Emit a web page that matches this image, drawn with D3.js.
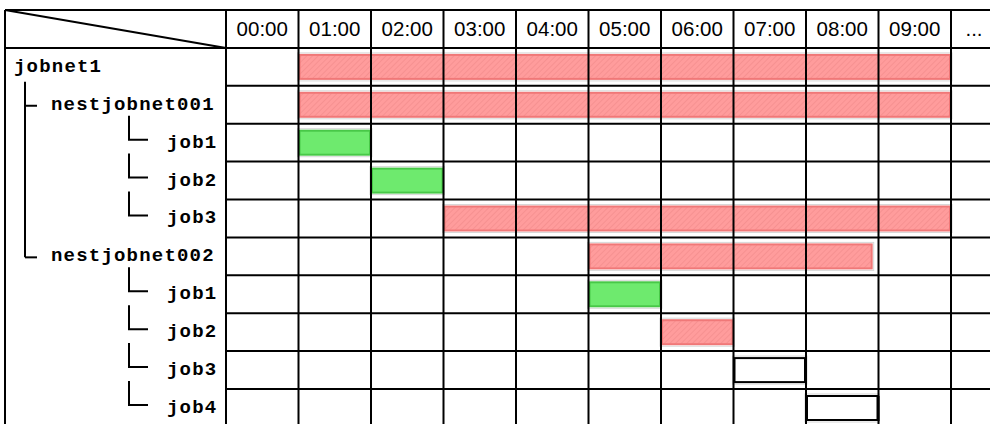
<!DOCTYPE html>
<html>
<head>
<meta charset="utf-8">
<script src="https://cdn.jsdelivr.net/npm/d3@7/dist/d3.min.js"></script>
<style>
  html, body { margin: 0; padding: 0; background: #fff; overflow: hidden; }
  svg { display: block; }
</style>
</head>
<body>
<svg id="chart" width="990" height="424"></svg>
<script>
// ---- data ----
const timeLabels = ["00:00","01:00","02:00","03:00","04:00","05:00","06:00","07:00","08:00","09:00","..."];
const rowNames   = ["jobnet1","nestjobnet001","job1","job2","job3","nestjobnet002","job1","job2","job3","job4"];
const rowDepths  = [0, 1, 2, 2, 2, 1, 2, 2, 2, 2];
const barStart   = [1, 1, 1, 2, 3, 5, 5, 6, 7, 8];       // hours
const barEnd     = [10, 10, 2, 3, 10, 8.92, 6, 7, 8, 9];  // hours
const barStatus  = ["running","running","ended","ended","running","running","ended","running","waiting","waiting"];

(function () {
// ---- layout ----
const svg = d3.select("#chart");
const left = 5, topY = 10, labelRight = 226, rowH = 37.9;
const nRows = rowNames.length + 1;
const x = d3.scaleLinear().domain([0, 10]).range([labelRight, labelRight + 72.5 * 10]);
const rowKeys = ["header"].concat(rowNames.map((d, i) => "r" + i));
const y = d3.scaleBand().domain(rowKeys).range([topY, topY + nRows * rowH]).paddingInner(0).paddingOuter(0);
const bottom = topY + nRows * rowH;

const defs = svg.append("defs");
const pat = defs.append("pattern").attr("id", "hatch").attr("patternUnits", "userSpaceOnUse")
  .attr("width", 4).attr("height", 4).attr("patternTransform", "rotate(45)");
pat.append("rect").attr("width", 4).attr("height", 4).attr("fill", "#ff9c9c");
pat.append("line").attr("x1", 0).attr("y1", 0).attr("x2", 0).attr("y2", 4)
  .attr("stroke", "#f08a8a").attr("stroke-width", 1.2);

// ---- bars ----
const bars = svg.append("g");
const styles = {
  running: { fill: "url(#hatch)", stroke: "#f07878" },
  ended:   { fill: "#6eea6e", stroke: "#48c848" },
  waiting: { fill: "#ffffff", stroke: "#000000" }
};
rowNames.forEach((name, i) => {
  const st = styles[barStatus[i]];
  const x0 = x(barStart[i]), x1 = x(barEnd[i]);
  const y0 = y("r" + i) + 6, h = 26;
  bars.append("rect").attr("x", x0 - 1).attr("y", y0 - 1).attr("width", x1 - x0 + 2).attr("height", h + 2)
    .attr("fill", "none").attr("stroke", "#d8d8d8").attr("stroke-width", 1);
  bars.append("rect").attr("x", x0 + 1).attr("y", y0 + 1).attr("width", x1 - x0 - 2).attr("height", h - 2)
    .attr("fill", st.fill).attr("stroke", st.stroke).attr("stroke-width", 2);
  if (barStatus[i] === "waiting") {
    bars.append("line").attr("x1", x1).attr("x2", x1).attr("y1", y0 + 1).attr("y2", y0 + h)
      .attr("stroke", "#000").attr("stroke-width", 2);
  }
});

// ---- grid ----
const grid = svg.append("g").attr("stroke", "#000").attr("stroke-width", 2).attr("fill", "none");
grid.append("line").attr("x1", left).attr("x2", 990).attr("y1", topY).attr("y2", topY);
grid.append("line").attr("x1", left).attr("x2", left).attr("y1", topY).attr("y2", bottom);
grid.append("line").attr("x1", left).attr("x2", 990).attr("y1", y("r0")).attr("y2", y("r0"));
rowKeys.slice(2).forEach(k => {
  grid.append("line").attr("x1", labelRight).attr("x2", 990).attr("y1", y(k)).attr("y2", y(k));
});
d3.range(0, 11).forEach(h => {
  grid.append("line").attr("x1", x(h)).attr("x2", x(h)).attr("y1", topY).attr("y2", bottom);
});
grid.append("line").attr("x1", left).attr("y1", topY).attr("x2", labelRight).attr("y2", y("r0"));

// ---- header labels ----
const hdr = svg.append("g").attr("font-family", "'Liberation Sans', Arial, sans-serif")
  .attr("font-size", 20.5).attr("fill", "#000").attr("text-anchor", "middle");
timeLabels.forEach((t, i) => {
  const cx = i < 10 ? (x(i) + x(i + 1)) / 2 : x(10) + 23;
  hdr.append("text").attr("x", cx).attr("y", y("header") + 26).text(t);
});

// ---- row labels & tree connectors ----
const lab = svg.append("g").attr("font-family", "'Liberation Mono', 'Courier New', monospace")
  .attr("font-size", 19).attr("font-weight", "bold").attr("fill", "#000").attr("letter-spacing", 1.2);
const conn = svg.append("g").attr("stroke", "#000").attr("stroke-width", 2).attr("fill", "none");
const labelX = [14, 51, 167];
rowNames.forEach((name, i) => {
  const cy = y("r" + i) + rowH / 2;
  lab.append("text").attr("x", labelX[rowDepths[i]]).attr("y", cy + 5).text(name);
  if (rowDepths[i] === 2) {
    conn.append("path").attr("d", `M129,${cy - 27} L129,${cy - 3} L148,${cy - 3}`);
  }
});
const lvl1 = rowDepths.map((d, i) => d === 1 ? i : -1).filter(i => i >= 0);
const trunkTop = y("r0") + rowH / 2 + 15;
const lastCy = y("r" + lvl1[lvl1.length - 1]) + rowH / 2 + 1;
conn.append("line").attr("x1", 25).attr("x2", 25).attr("y1", trunkTop).attr("y2", lastCy);
lvl1.forEach(i => {
  const cy = y("r" + i) + rowH / 2 + 1;
  conn.append("line").attr("x1", 25).attr("x2", 37).attr("y1", cy).attr("y2", cy);
});
})();
</script>
</body>
</html>
